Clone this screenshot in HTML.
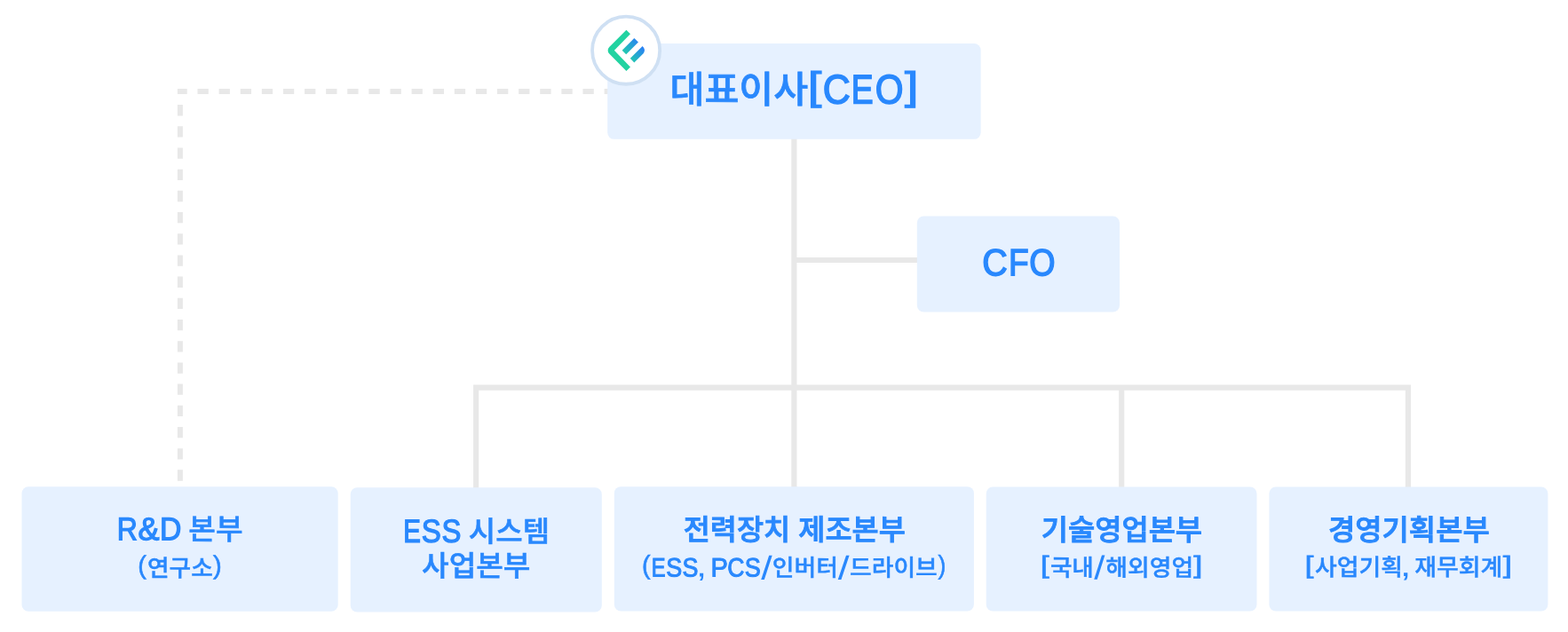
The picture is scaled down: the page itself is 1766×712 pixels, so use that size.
<!DOCTYPE html>
<html lang="ko">
<head>
<meta charset="utf-8">
<title>조직도</title>
<style>
html,body{margin:0;padding:0;background:#fff;}
body{width:1766px;height:712px;overflow:hidden;}
svg{display:block;will-change:transform;text-rendering:geometricPrecision;}
text{font-family:"Liberation Sans","Noto Sans CJK KR",sans-serif;fill:#2988fd;stroke:#2988fd;stroke-linejoin:miter;}
</style>
</head>
<body>
<svg width="1766" height="712" viewBox="0 0 1766 712" role="img" aria-label="조직도">
<defs><linearGradient id="g1" gradientUnits="userSpaceOnUse" x1="719" y1="43" x2="703" y2="59"><stop offset="0" stop-color="#2a7df8"/><stop offset="1" stop-color="#22c8b0"/></linearGradient><linearGradient id="g2" gradientUnits="userSpaceOnUse" x1="726" y1="54" x2="711" y2="69"><stop offset="0" stop-color="#2a7df8"/><stop offset="1" stop-color="#22c8b0"/></linearGradient></defs>
<g fill="none" stroke="#e8e8e8" stroke-width="6">
<path d="M199.9 103H690" stroke-dasharray="12.3 11.81" stroke-dashoffset="1.51"/>
<path d="M202.9 118.1V541.7" stroke-dasharray="12.3 11.89"/>
</g>
<g fill="none" stroke="#e8e8e8" stroke-width="6.15" stroke-linejoin="miter">
<path d="M894.4 150V552"/>
<path d="M894.4 293H1036"/>
<path d="M536.15 553V436.65H1585.95V552"/>
<path d="M1263.2 436.65V552"/>
</g>
<g>
<rect x="684.20" y="49.00" width="420.45" height="107.85" rx="7.5" fill="#e6f1ff"/>
<rect x="1032.80" y="243.50" width="228.20" height="108.00" rx="7.5" fill="#e6f1ff"/>
<rect x="24.50" y="548.30" width="356.20" height="140.35" rx="7.5" fill="#e6f1ff"/>
<rect x="394.70" y="549.20" width="283.10" height="140.20" rx="7.5" fill="#e6f1ff"/>
<rect x="691.80" y="548.15" width="405.10" height="140.25" rx="7.5" fill="#e6f1ff"/>
<rect x="1110.70" y="548.50" width="304.80" height="140.00" rx="7.5" fill="#e6f1ff"/>
<rect x="1429.40" y="548.50" width="314.00" height="140.00" rx="7.5" fill="#e6f1ff"/>
</g>
<g>
<circle cx="705.1" cy="56.7" r="38.05" fill="#fff" stroke="#cfe0f3" stroke-width="3.8"/>
<path d="M705.42 33.8 L686.23 52.89 A5.4 5.4 0 0 0 686.2 60.53 L705.42 79.89 L709.95 75.43 L691.83 56.66 L709.95 38.25 Z" fill="#22d3a1"/>
<path d="M714.33 42.93 L718.93 47.38 L705.2 61.26 L700.67 56.66 Z" fill="url(#g1)"/>
<path d="M709.8 65.8 L723.6 51.9 Q726.6 55.2 725.8 57.6 Q725.5 59.3 724.6 60.3 L714.3 70.5 Z" fill="url(#g2)"/>
</g>
<g>
<text transform="matrix(1 0.0009 0 1 0 0)"><tspan x="754.48" y="115.001" font-size="42.00" font-weight="500" textLength="155.74" lengthAdjust="spacingAndGlyphs" stroke-width="0.70">대표이사</tspan><tspan x="909.68" y="111.174" font-size="44.17" font-weight="400" textLength="15.56" lengthAdjust="spacingAndGlyphs" stroke-width="1.20">[</tspan><tspan x="926.85" y="115.652" font-size="46.08" font-weight="400" textLength="31.01" lengthAdjust="spacingAndGlyphs" stroke-width="1.60">C</tspan><tspan x="958.77" y="115.626" font-size="46.08" font-weight="400" textLength="24.86" lengthAdjust="spacingAndGlyphs" stroke-width="1.60">E</tspan><tspan x="985.81" y="115.598" font-size="46.08" font-weight="400" textLength="31.74" lengthAdjust="spacingAndGlyphs" stroke-width="1.60">O</tspan><tspan x="1019.05" y="111.076" font-size="44.17" font-weight="400" textLength="15.39" lengthAdjust="spacingAndGlyphs" stroke-width="1.20">]</tspan></text>
<text transform="matrix(1 0.0009 0 1 0 0)"><tspan x="1106.27" y="309.242" font-size="42.44" font-weight="400" textLength="28.54" lengthAdjust="spacingAndGlyphs" stroke-width="1.50">C</tspan><tspan x="1135.98" y="309.217" font-size="42.44" font-weight="400" textLength="22.69" lengthAdjust="spacingAndGlyphs" stroke-width="1.50">F</tspan><tspan x="1159.16" y="309.194" font-size="42.44" font-weight="400" textLength="29.30" lengthAdjust="spacingAndGlyphs" stroke-width="1.50">O</tspan></text>
<text transform="matrix(1 0.0009 0 1 0 0)"><tspan x="131.79" y="608.121" font-size="36.12" font-weight="400" textLength="23.13" lengthAdjust="spacingAndGlyphs" stroke-width="1.30">R</tspan><tspan x="155.39" y="608.099" font-size="36.12" font-weight="400" textLength="23.97" lengthAdjust="spacingAndGlyphs" stroke-width="1.30">&amp;</tspan><tspan x="179.90" y="608.077" font-size="36.12" font-weight="400" textLength="24.34" lengthAdjust="spacingAndGlyphs" stroke-width="1.30">D</tspan> <tspan x="212.28" y="607.531" font-size="32.60" font-weight="500" textLength="61.25" lengthAdjust="spacingAndGlyphs" stroke-width="0.55">본부</tspan></text>
<text transform="matrix(1 0.0009 0 1 0 0)"><tspan x="155.22" y="646.356" font-size="28.88" font-weight="400" textLength="9.61" lengthAdjust="spacingAndGlyphs" stroke-width="0.60">(</tspan><tspan x="166.00" y="649.067" font-size="26.20" font-weight="500" textLength="73.81" lengthAdjust="spacingAndGlyphs" stroke-width="0.40">연구소</tspan><tspan x="240.11" y="646.280" font-size="28.88" font-weight="400" textLength="9.74" lengthAdjust="spacingAndGlyphs" stroke-width="0.60">)</tspan></text>
<text transform="matrix(1 0.0009 0 1 0 0)"><tspan x="454.14" y="610.332" font-size="36.48" font-weight="400" textLength="19.64" lengthAdjust="spacingAndGlyphs" stroke-width="1.30">E</tspan><tspan x="474.86" y="610.313" font-size="36.48" font-weight="400" textLength="22.04" lengthAdjust="spacingAndGlyphs" stroke-width="1.30">S</tspan><tspan x="497.47" y="610.292" font-size="36.48" font-weight="400" textLength="21.93" lengthAdjust="spacingAndGlyphs" stroke-width="1.30">S</tspan> <tspan x="527.85" y="609.734" font-size="32.60" font-weight="500" textLength="91.28" lengthAdjust="spacingAndGlyphs" stroke-width="0.55">시스템</tspan></text>
<text transform="matrix(1 0.0009 0 1 0 0)"><tspan x="475.06" y="648.517" font-size="32.60" font-weight="500" textLength="122.36" lengthAdjust="spacingAndGlyphs" stroke-width="0.55">사업본부</tspan></text>
<text transform="matrix(1 0.0009 0 1 0 0)"><tspan x="769.70" y="607.445" font-size="32.60" font-weight="500" textLength="250.09" lengthAdjust="spacingAndGlyphs" stroke-width="0.95">전력장치 제조본부</tspan></text>
<text transform="matrix(1 0.0009 0 1 0 0)"><tspan x="722.98" y="645.845" font-size="29.52" font-weight="400" textLength="9.55" lengthAdjust="spacingAndGlyphs" stroke-width="0.60">(</tspan><tspan x="733.63" y="648.833" font-size="29.87" font-weight="400" textLength="15.79" lengthAdjust="spacingAndGlyphs" stroke-width="1.05">E</tspan><tspan x="750.26" y="648.817" font-size="29.87" font-weight="400" textLength="17.98" lengthAdjust="spacingAndGlyphs" stroke-width="1.05">S</tspan><tspan x="768.62" y="648.800" font-size="29.87" font-weight="400" textLength="17.92" lengthAdjust="spacingAndGlyphs" stroke-width="1.05">S</tspan><tspan x="784.30" y="648.789" font-size="36.09" font-weight="400" textLength="11.70" lengthAdjust="spacingAndGlyphs" stroke="none">,</tspan> <tspan x="800.61" y="648.771" font-size="29.87" font-weight="400" textLength="19.33" lengthAdjust="spacingAndGlyphs" stroke-width="1.05">P</tspan><tspan x="819.30" y="648.754" font-size="29.87" font-weight="400" textLength="19.20" lengthAdjust="spacingAndGlyphs" stroke-width="1.05">C</tspan><tspan x="838.71" y="648.737" font-size="29.87" font-weight="400" textLength="18.04" lengthAdjust="spacingAndGlyphs" stroke-width="1.05">S</tspan><tspan x="857.20" y="651.973" font-size="37.41" font-weight="400" textLength="12.43" lengthAdjust="spacingAndGlyphs" stroke="none">/</tspan><tspan x="869.86" y="647.934" font-size="26.20" font-weight="500" textLength="74.03" lengthAdjust="spacingAndGlyphs" stroke-width="0.40">인버터</tspan><tspan x="943.80" y="651.895" font-size="37.41" font-weight="400" textLength="12.83" lengthAdjust="spacingAndGlyphs" stroke="none">/</tspan><tspan x="957.09" y="647.844" font-size="26.20" font-weight="500" textLength="98.72" lengthAdjust="spacingAndGlyphs" stroke-width="0.40">드라이브</tspan><tspan x="1056.43" y="645.545" font-size="29.52" font-weight="400" textLength="8.84" lengthAdjust="spacingAndGlyphs" stroke-width="0.60">)</tspan></text>
<text transform="matrix(1 0.0009 0 1 0 0)"><tspan x="1172.72" y="607.363" font-size="32.60" font-weight="500" textLength="181.39" lengthAdjust="spacingAndGlyphs" stroke-width="0.95">기술영업본부</tspan></text>
<text transform="matrix(1 0.0009 0 1 0 0)"><tspan x="1171.85" y="644.691" font-size="27.59" font-weight="400" textLength="9.93" lengthAdjust="spacingAndGlyphs" stroke-width="0.60">[</tspan><tspan x="1182.90" y="647.663" font-size="26.20" font-weight="500" textLength="48.92" lengthAdjust="spacingAndGlyphs" stroke-width="0.40">국내</tspan><tspan x="1232.30" y="651.385" font-size="37.28" font-weight="400" textLength="12.13" lengthAdjust="spacingAndGlyphs" stroke="none">/</tspan><tspan x="1245.39" y="647.585" font-size="26.20" font-weight="500" textLength="98.69" lengthAdjust="spacingAndGlyphs" stroke-width="0.40">해외영업</tspan><tspan x="1344.33" y="644.535" font-size="27.59" font-weight="400" textLength="10.26" lengthAdjust="spacingAndGlyphs" stroke-width="0.60">]</tspan></text>
<text transform="matrix(1 0.0009 0 1 0 0)"><tspan x="1496.00" y="607.072" font-size="32.60" font-weight="500" textLength="181.71" lengthAdjust="spacingAndGlyphs" stroke-width="0.95">경영기획본부</tspan></text>
<text transform="matrix(1 0.0009 0 1 0 0)"><tspan x="1469.58" y="644.423" font-size="27.38" font-weight="400" textLength="10.00" lengthAdjust="spacingAndGlyphs" stroke-width="0.60">[</tspan><tspan x="1481.06" y="646.873" font-size="26.20" font-weight="500" textLength="98.97" lengthAdjust="spacingAndGlyphs" stroke-width="0.40">사업기획</tspan><tspan x="1577.00" y="647.575" font-size="34.78" font-weight="400" textLength="12.29" lengthAdjust="spacingAndGlyphs" stroke="none">,</tspan> <tspan x="1593.26" y="646.771" font-size="26.20" font-weight="500" textLength="99.10" lengthAdjust="spacingAndGlyphs" stroke-width="0.40">재무회계</tspan><tspan x="1692.83" y="644.222" font-size="27.38" font-weight="400" textLength="10.26" lengthAdjust="spacingAndGlyphs" stroke-width="0.60">]</tspan></text>
</g>
</svg>
</body>
</html>
